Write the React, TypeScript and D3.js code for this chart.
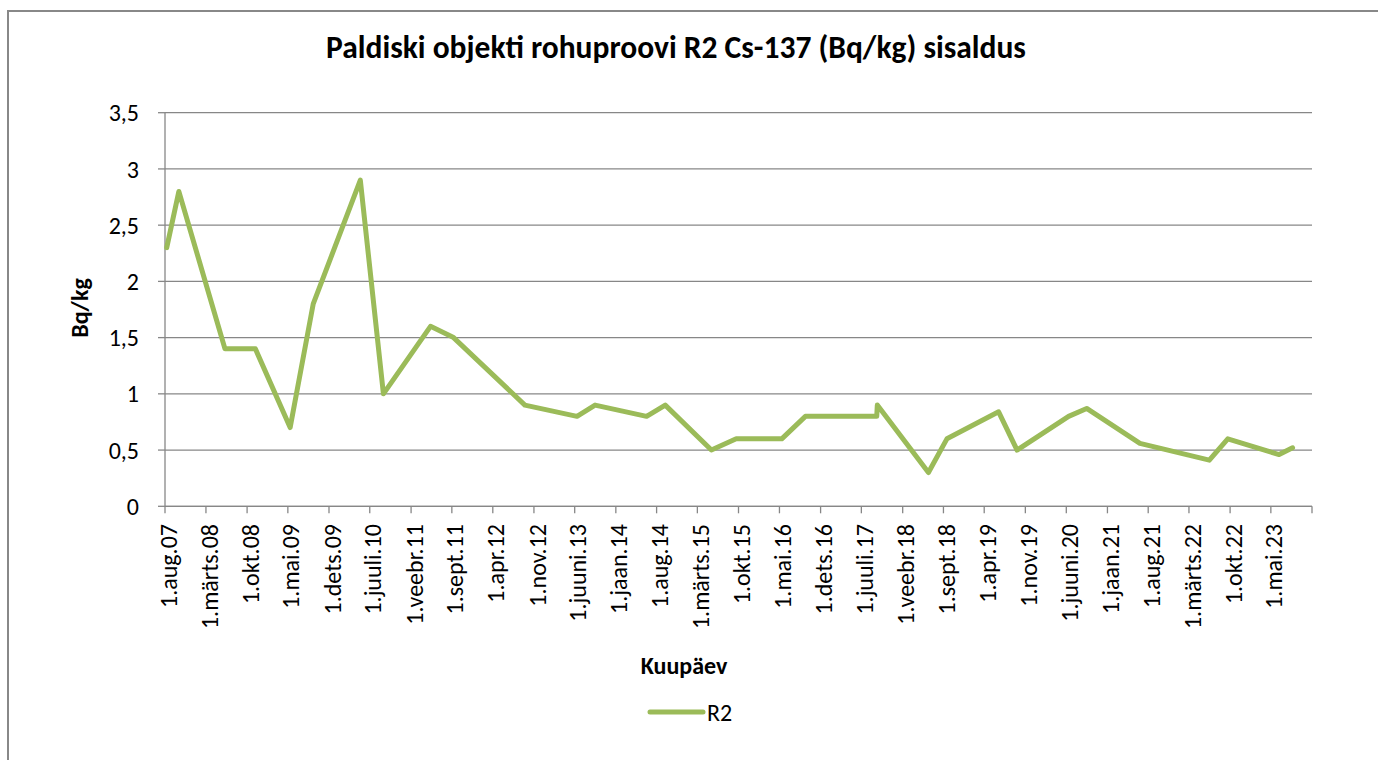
import React from "react";
import * as d3 from "d3";

const title = "Paldiski objekti rohuproovi R2 Cs-137 (Bq/kg) sisaldus";
const yAxisTitle = "Bq/kg";
const xAxisTitle = "Kuupäev";
const seriesName = "R2";

const sampleDates = [
  "2007-08-10", "2007-10-12", "2008-06-08", "2008-11-13", "2009-05-13",
  "2009-09-10", "2010-05-13", "2010-09-10", "2011-05-13", "2011-09-10",
  "2012-09-15", "2013-06-13", "2013-09-15", "2014-06-10", "2014-09-15",
  "2015-05-13", "2015-09-19", "2016-05-13", "2016-09-13", "2017-09-19",
  "2017-09-22", "2018-06-15", "2018-09-19", "2019-06-15", "2019-09-19",
  "2020-06-13", "2020-09-15", "2021-06-19", "2022-06-15", "2022-09-19",
  "2023-06-13", "2023-08-22",
];
const r2Values = [
  2.3, 2.8, 1.4, 1.4, 0.7,
  1.8, 2.9, 1.0, 1.6, 1.5,
  0.9, 0.8, 0.9, 0.8, 0.9,
  0.5, 0.6, 0.6, 0.8, 0.8,
  0.9, 0.3, 0.6, 0.84, 0.5,
  0.8, 0.87, 0.56, 0.41, 0.6,
  0.46, 0.52,
];

const xTickLabels = [
  "1.aug.07", "1.märts.08", "1.okt.08", "1.mai.09", "1.dets.09", "1.juuli.10",
  "1.veebr.11", "1.sept.11", "1.apr.12", "1.nov.12", "1.juuni.13", "1.jaan.14",
  "1.aug.14", "1.märts.15", "1.okt.15", "1.mai.16", "1.dets.16", "1.juuli.17",
  "1.veebr.18", "1.sept.18", "1.apr.19", "1.nov.19", "1.juuni.20", "1.jaan.21",
  "1.aug.21", "1.märts.22", "1.okt.22", "1.mai.23",
];
const axisStart = "2007-08-01";
const axisEnd = "2023-12-01";
const tickStepMonths = 7;
const yTicks = [0, 0.5, 1, 1.5, 2, 2.5, 3, 3.5];

const FONT = "Carlito, Lato, 'Liberation Sans', sans-serif";
const GREEN = "#9BBB59";
const GRID = "#878787";

const parse = (s: string) => {
  const [y, m, d] = s.split("-").map(Number);
  return new Date(Date.UTC(y, m - 1, d));
};

export default function App() {
  const left = 165, right = 1312, top = 112.7, bottom = 506.3;
  const x = d3.scaleUtc().domain([parse(axisStart), parse(axisEnd)]).range([left, right]);
  const y = d3.scaleLinear().domain([0, 3.5]).range([bottom, top]);

  const start = parse(axisStart);
  const nTicks = Math.round(d3.utcMonth.count(start, parse(axisEnd)) / tickStepMonths);
  const tickDates = d3.range(nTicks + 1).map((i) => d3.utcMonth.offset(start, i * tickStepMonths));

  const data = sampleDates.map((d, i) => ({ date: parse(d), v: r2Values[i] }));
  const line = d3.line<{ date: Date; v: number }>().x((d) => x(d.date)).y((d) => y(d.v));

  const fmt = (v: number) => String(v).replace(".", ",");
  const tickFont = 24;

  return (
    <svg
      width={1378}
      height={760}
      style={{ position: "absolute", left: 0, top: 0, background: "#fff" }}
      fontFamily={FONT}
    >
      <rect x={0} y={0} width={1378} height={760} fill="#fff" />
      <rect x={8} y={11} width={1500} height={1000} fill="none" stroke="#888" strokeWidth={2} />
      <text x={676} y={58} textAnchor="middle" fontSize={31.5} fontWeight="bold" fill="#000">
        {title}
      </text>

      {yTicks.map((t) => (
        <g key={t}>
          <line x1={left} x2={right} y1={y(t)} y2={y(t)} stroke={GRID} strokeWidth={1.3} />
          <line x1={left - 7} x2={left} y1={y(t)} y2={y(t)} stroke={GRID} strokeWidth={1.3} />
          <text x={139} y={y(t)} dy="0.36em" textAnchor="end" fontSize={tickFont} fill="#000">
            {fmt(t)}
          </text>
        </g>
      ))}
      <line x1={left} x2={left} y1={top} y2={bottom} stroke={GRID} strokeWidth={1.3} />
      <line x1={left} x2={right} y1={bottom} y2={bottom} stroke={GRID} strokeWidth={1.3} />
      {tickDates.map((d, i) => (
        <g key={i}>
          <line x1={x(d)} x2={x(d)} y1={bottom} y2={bottom + 7} stroke={GRID} strokeWidth={1.3} />
          {i < xTickLabels.length && (
            <text
              transform={`translate(${x(d) + 3},${524}) rotate(-90)`}
              dy="0.36em"
              textAnchor="end"
              fontSize={tickFont}
              fill="#000"
            >
              {xTickLabels[i]}
            </text>
          )}
        </g>
      ))}

      <path d={line(data) || ""} fill="none" stroke={GREEN} strokeWidth={5} strokeLinejoin="round" strokeLinecap="round" />

      <text transform="translate(88,308) rotate(-90)" textAnchor="middle" fontSize={24} fontWeight="bold" fill="#000">
        {yAxisTitle}
      </text>
      <text x={684} y={674} textAnchor="middle" fontSize={24} fontWeight="bold" fill="#000">
        {xAxisTitle}
      </text>

      <line x1={650} x2={703} y1={712} y2={712} stroke={GREEN} strokeWidth={5} strokeLinecap="round" />
      <text x={707} y={720.5} fontSize={tickFont} fill="#000">
        {seriesName}
      </text>
    </svg>
  );
}
